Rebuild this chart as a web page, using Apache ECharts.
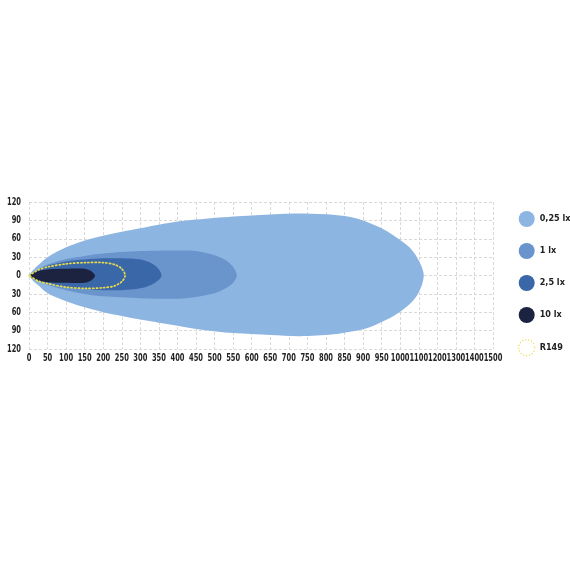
<!DOCTYPE html>
<html>
<head>
<meta charset="utf-8">
<script src="https://cdn.jsdelivr.net/npm/echarts@6/dist/echarts.min.js"></script>
<style>
  html, body { margin: 0; padding: 0; background: #fff; }
  #main { width: 570px; height: 570px; }
</style>
</head>
<body>
<div id="main"></div>
<script>
// tick labels (x axis is evenly spaced: 50 m steps up to 1000, then 100 m steps)
var xTicks = ['0','50','100','150','200','250','300','350','400','450','500','550','600','650','700','750','800','850','900','950','1000','1100','1200','1300','1400','1500'];
var yTicks = [-120, -90, -60, -30, 0, 30, 60, 90, 120];

// isolux contours, [distance m, lateral m], upper and lower edge
var lx025Upper = [[0,0],[10,8],[25,17],[50,30],[100,46],[150,57],[200,65],[300,77],[400,88],[500,94],[600,98],[700,101],[800,100],[850,97],[900,90],[950,77],[1000,58],[1050,46],[1090,30],[1115,15],[1127,0]];
var lx025Lower = [[0,0],[10,-8],[25,-16],[50,-29],[100,-42],[150,-52],[200,-60],[300,-72],[400,-82],[460,-88],[550,-94],[650,-97],[730,-99],[820,-96],[910,-86],[964,-72],[1000,-59],[1050,-47],[1088,-34],[1115,-17],[1127,0]];

var lx1Upper = [[0,0],[10,5],[25,10],[50,18],[100,27],[150,32],[200,36],[300,40],[400,41],[450,40],[500,33],[530,25],[550,14],[560,0]];
var lx1Lower = [[0,0],[10,-5],[25,-9],[50,-15],[100,-24],[150,-30],[200,-34],[300,-37],[400,-38],[450,-35],[500,-29],[530,-21],[550,-12],[560,0]];

var lx25Upper = [[0,0],[10,5],[25,10],[50,16],[100,23],[150,26],[200,28],[250,28],[300,26],[330,20],[350,10],[357,0]];
var lx25Lower = [[0,0],[10,-4],[25,-8],[50,-13],[100,-19],[150,-22],[200,-24],[250,-24],[300,-21],[330,-15],[350,-7],[357,0]];

var lx10Upper = [[0,0],[15,5],[30,8],[50,10],[100,11],[150,11],[165,8],[175,3],[178,0]];
var lx10Lower = [[0,0],[15,-6],[30,-9],[50,-11],[100,-12],[150,-12],[165,-9],[175,-4],[178,0]];

var r149Upper = [[0,0],[25,9],[50,14],[100,19],[150,21],[200,21],[230,18],[250,11],[259,0]];
var r149Lower = [[0,0],[25,-9],[50,-13],[100,-19],[150,-21],[200,-20],[230,-17],[250,-10],[259,0]];

var names = ['0,25 lx', '1 lx', '2,5 lx', '10 lx', 'R149'];
var colors = ['#8db5e2', '#6a94cc', '#3a67a8', '#1c2340', '#e8dc4a'];

var FONT = '"DejaVu Sans Condensed", "DejaVu Sans", sans-serif';
var TICK_FONT = 'bold 10.5px "DejaVu Sans Condensed", "DejaVu Sans", sans-serif';
var SQUEEZE = 0.71;   // the original tick labels use a very narrow face

// metres -> position on the evenly spaced x axis
function toAxis(m) {
    return m <= 1000 ? m / 50 : 20 + (m - 1000) / 100;
}

// closed outline: upper edge out to the tip, lower edge back to the lamp.
// the lamp point ends up twice so the nose stays sharp after smoothing
function outline(upper, lower) {
    var pts = upper.concat(lower.slice(0, -1).reverse());
    return pts.map(function (p) { return [toAxis(p[0]), p[1]]; });
}

function contourSeries(name, upper, lower, color, dotted) {
    return {
        name: name,
        type: 'custom',
        data: outline(upper, lower),
        encode: { x: 0, y: 1 },
        itemStyle: { color: color },
        silent: true,
        renderItem: function (params, api) {
            if (params.dataIndex !== 0) return;
            var pts = outline(upper, lower).map(function (p) { return api.coord(p); });
            return {
                type: 'polygon',
                shape: { points: pts, smooth: 0.3 },
                style: dotted ? {
                    fill: null, stroke: color, lineWidth: 1.7,
                    lineDash: [1.2, 2.4], lineCap: 'round'
                } : { fill: color }
            };
        }
    };
}

// tick labels drawn at the axis positions, squeezed horizontally
function xLabelSeries() {
    return {
        type: 'custom',
        silent: true,
        clip: false,
        z: 10,
        data: xTicks.map(function (t, i) { return [i, yTicks[0]]; }),
        encode: { x: 0, y: 1 },
        renderItem: function (params, api) {
            var p = api.coord([api.value(0), api.value(1)]);
            return {
                type: 'text', x: p[0], y: p[1] + 9, scaleX: SQUEEZE,
                style: { text: xTicks[params.dataIndex], font: TICK_FONT, fill: '#222', align: 'center', verticalAlign: 'middle' }
            };
        }
    };
}

function yLabelSeries() {
    return {
        type: 'custom',
        silent: true,
        clip: false,
        z: 10,
        data: yTicks.map(function (v) { return [0, v]; }),
        encode: { x: 0, y: 1 },
        renderItem: function (params, api) {
            var p = api.coord([api.value(0), api.value(1)]);
            return {
                type: 'text', x: p[0] - 8, y: p[1], scaleX: SQUEEZE,
                style: { text: String(Math.abs(yTicks[params.dataIndex])), font: TICK_FONT, fill: '#222', align: 'right', verticalAlign: 'middle' }
            };
        }
    };
}

var chart = echarts.init(document.getElementById('main'));
var option = {
    animation: false,
    grid: { left: 29, right: 77, top: 202, bottom: 221 },
    legend: {
        orient: 'vertical',
        left: 513,
        top: 206,
        icon: 'circle',
        itemWidth: 16,
        itemHeight: 16,
        itemGap: 16,
        itemStyle: { borderWidth: 0 },
        selectedMode: false,
        textStyle: { fontFamily: FONT, fontWeight: 'bold', fontSize: 9, color: '#222' },
        data: [
            { name: names[0] },
            { name: names[1] },
            { name: names[2] },
            { name: names[3] },
            { name: names[4], itemStyle: { color: 'transparent', borderColor: colors[4], borderWidth: 1.4, borderType: [1, 2] } }
        ]
    },
    xAxis: {
        type: 'value',
        min: 0,
        max: xTicks.length - 1,
        interval: 1,
        axisLine: { show: false },
        axisTick: { show: false },
        axisLabel: { show: false },
        splitLine: { show: true, lineStyle: { color: '#cfcfcf', type: [3, 2], width: 0.8 } }
    },
    yAxis: {
        type: 'value',
        min: yTicks[0],
        max: yTicks[yTicks.length - 1],
        interval: 30,
        axisLine: { show: false },
        axisTick: { show: false },
        axisLabel: { show: false },
        splitLine: { show: true, lineStyle: { color: '#cfcfcf', type: [3, 2], width: 0.8 } }
    },
    series: [
        contourSeries(names[0], lx025Upper, lx025Lower, colors[0], false),
        contourSeries(names[1], lx1Upper, lx1Lower, colors[1], false),
        contourSeries(names[2], lx25Upper, lx25Lower, colors[2], false),
        contourSeries(names[3], lx10Upper, lx10Lower, colors[3], false),
        contourSeries(names[4], r149Upper, r149Lower, colors[4], true),
        xLabelSeries(),
        yLabelSeries()
    ]
};
chart.setOption(option);
window.onresize = chart.resize;
</script>
</body>
</html>
